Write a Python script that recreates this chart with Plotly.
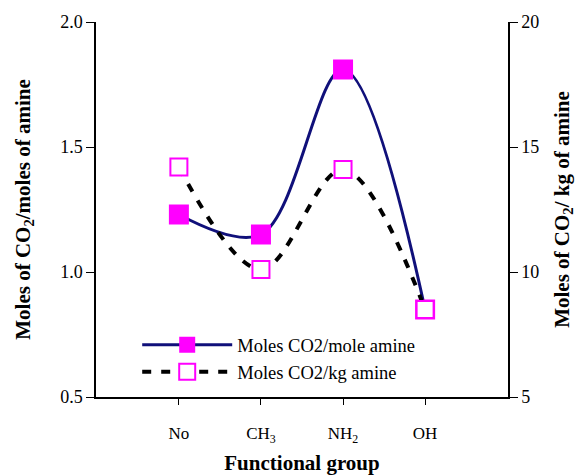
import plotly.graph_objects as go

categories = ["No", "CH<sub>3</sub>", "NH<sub>2</sub>", "OH"]
moles_per_mole = [1.23, 1.15, 1.81, 0.85]
moles_per_kg = [14.2, 10.1, 14.1, 8.5]

x = [0, 1, 2, 3]
FONT = "Liberation Serif"

fig = go.Figure()
fig.add_trace(go.Scatter(
    x=x, y=moles_per_mole, name="Moles CO2/mole amine",
    mode="lines+markers",
    line=dict(color="#10107a", width=3, shape="spline", smoothing=1),
    marker=dict(symbol="square", size=20, color="#ff00ff"),
))
fig.add_trace(go.Scatter(
    x=x, y=moles_per_kg, name="Moles CO2/kg amine", yaxis="y2",
    mode="lines+markers",
    line=dict(color="black", width=4, dash="9px,10px", shape="spline", smoothing=1),
    marker=dict(symbol="square", size=17, color="white",
                line=dict(color="#ff00ff", width=2)),
))

fig.update_layout(
    width=582, height=475,
    margin=dict(l=96, r=74, t=22, b=78),
    paper_bgcolor="white", plot_bgcolor="white",
    font=dict(family=FONT, color="black", size=15),
    showlegend=True,
    legend=dict(x=0.10, y=0.189, xanchor="left", yanchor="top",
                bgcolor="rgba(0,0,0,0)", font=dict(size=18.5, family=FONT),
                itemwidth=90, tracegroupgap=0),
    xaxis=dict(
        range=[-1.01, 4.01], tickmode="array", tickvals=x, ticktext=categories,
        showline=True, linecolor="black", linewidth=1.5, automargin=False,
        ticks="outside", ticklen=6, tickcolor="black", showgrid=False,
        zeroline=False, tickfont=dict(size=17, family=FONT), ticklabelstandoff=14,
        title=dict(text="<b>Functional group</b>", font=dict(size=21, family=FONT), standoff=14),
    ),
    yaxis=dict(
        range=[0.5, 2.0], tickvals=[0.5, 1.0, 1.5, 2.0], ticktext=["0.5", "1.0", "1.5", "2.0"],
        showline=True, linecolor="black", linewidth=1.5, automargin=False,
        ticks="outside", ticklen=8, tickcolor="black", showgrid=False, zeroline=False,
        tickfont=dict(size=18, family=FONT),
        title=dict(text="<b>Moles of CO<sub>2</sub>/moles of amine</b>", font=dict(size=21, family=FONT), standoff=24),
    ),
    yaxis2=dict(
        range=[5, 20], tickvals=[5, 10, 15, 20], overlaying="y", side="right",
        showline=True, linecolor="black", linewidth=1.5, automargin=False,
        ticks="outside", ticklen=8, tickcolor="black", showgrid=False, zeroline=False,
        tickfont=dict(size=18, family=FONT),
        title=dict(text="<b>Moles of CO<sub>2</sub>/ kg of amine</b>", font=dict(size=21, family=FONT), standoff=16),
    ),
)

fig.write_html("out.html")
